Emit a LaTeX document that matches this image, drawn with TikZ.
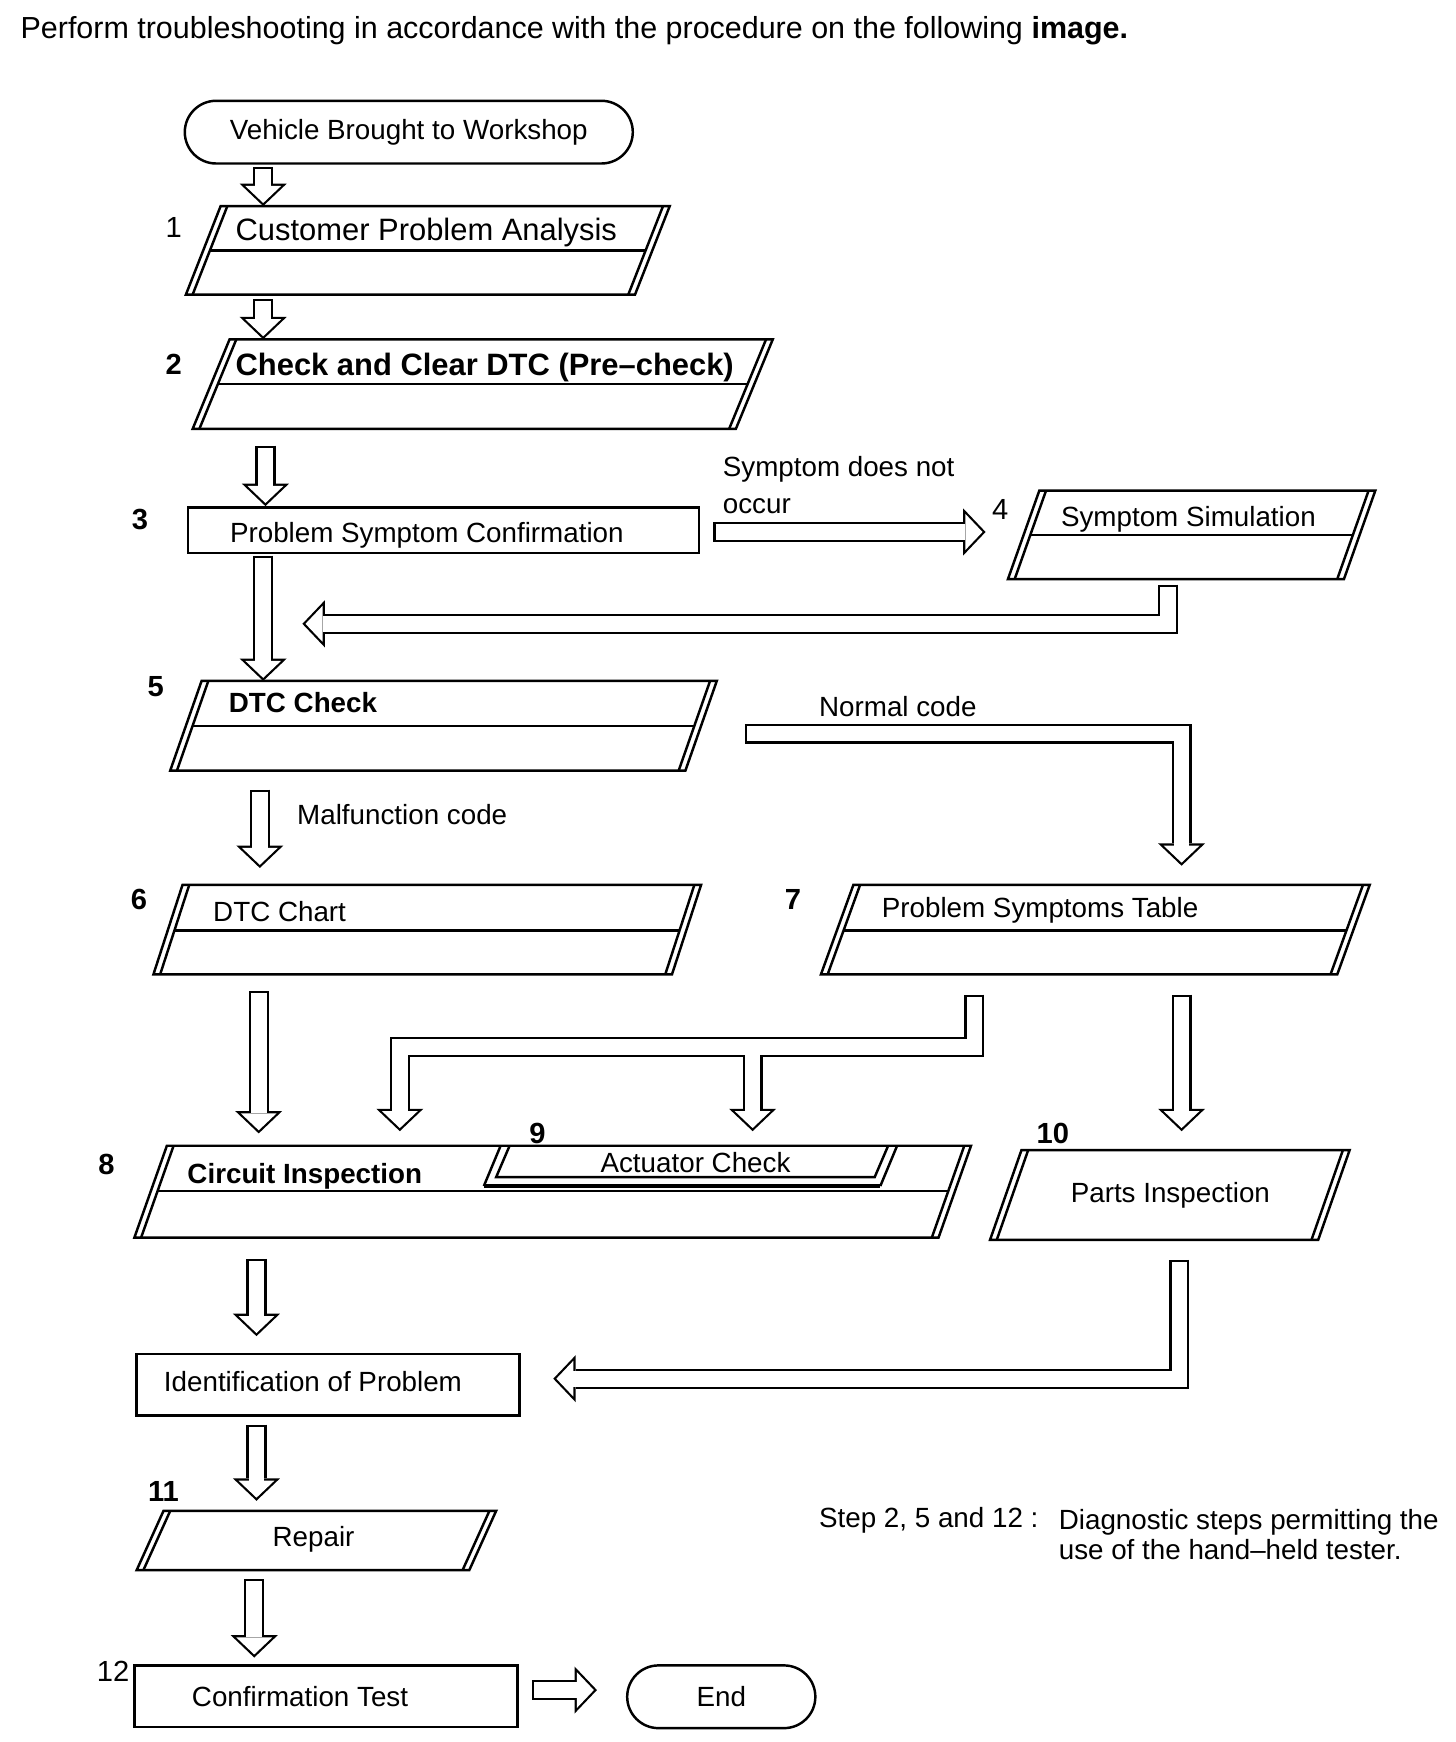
\documentclass[tikz,border=0pt]{standalone}
\usepackage{fontspec}
\setmainfont{Liberation Sans}
\usetikzlibrary{calc,arrows.meta}

\tikzset{
  boxline/.style={line width=1.1pt, line join=miter},
  frame/.style={draw, line width=1.1pt, inner sep=0pt},
  txt/.style={font=\fontsize{12.4}{15}\selectfont, inner sep=0pt, anchor=base west},
  bigtxt/.style={font=\fontsize{13.8}{16}\selectfont, inner sep=0pt, anchor=base west},
  stepno/.style={font=\fontsize{13}{15}\selectfont\bfseries, inner sep=0pt, anchor=base},
  arrowout/.style={line width=9pt, line join=miter,
    -{Triangle[length=10pt,width=21pt,line width=0pt]}},
  arrowin/.style={white, line width=7pt, line join=miter, shorten <=1pt, shorten >=1.38pt,
    -{Triangle[length=7.6pt,width=16pt,line width=0pt]}},
}

% parallelogram step box: name, top-left x, top y, width, height, slant
\newcommand{\slantbox}[6]{%
  \coordinate (#1-nw) at (#2,#3);
  \coordinate (#1-ne) at (#2+#4,#3);
  \coordinate (#1-se) at (#2+#4-#6,#3+#5);
  \coordinate (#1-sw) at (#2-#6,#3+#5);
  \draw[boxline] (#1-nw) -- (#1-ne) -- (#1-se) -- (#1-sw) -- cycle;
  \draw[boxline] ($(#1-nw)+(6,0)$) -- ($(#1-sw)+(6,0)$);
  \draw[boxline] ($(#1-ne)-(6,0)$) -- ($(#1-se)-(6,0)$);
}
\newcommand{\boxsplit}[2]{%
  \draw[boxline] ($(#1-nw)!#2!(#1-sw)+(6,0)$) -- ($(#1-ne)!#2!(#1-se)-(6,0)$);
}
\newcommand{\blockarrow}[1]{\draw[arrowout] #1; \draw[arrowin] #1;}

\begin{document}
\begin{tikzpicture}[x=0.5pt, y=-0.5pt]
  \useasboundingbox (0,0) rectangle (1300,1555.4);

  \node[inner sep=0pt, anchor=base west, font=\fontsize{13.6}{16}\selectfont] (title) at (18,34)
    {Perform troubleshooting in accordance with the procedure on the following \textbf{image.}};

  % start
  \node[frame, rounded corners=14pt, minimum width=200pt, minimum height=28pt,
    font=\fontsize{12.4}{15}\selectfont] (start) at (365,118) {Vehicle Brought to Workshop};

  % step 1
  \slantbox{b1}{197}{184}{401}{79}{31}
  \boxsplit{b1}{0.5}
  \node[stepno, font=\fontsize{13}{15}\selectfont] (n1) at (155,212) {1};
  \node[bigtxt] (b1-text) at (210,215) {Customer Problem Analysis};

  % step 2
  \slantbox{b2}{205}{303}{485}{80}{33}
  \boxsplit{b2}{0.5}
  \node[stepno] (n2) at (155,334) {2};
  \node[bigtxt, font=\fontsize{13.8}{16}\selectfont\bfseries] (b2-text) at (210,335)
    {Check and Clear DTC (Pre--check)};

  % step 3
  \node[frame, minimum width=228pt, minimum height=20.5pt] (psc) at (396,473.5) {};
  \node[stepno] (n3) at (125,473) {3};
  \node[txt] (psc-text) at (205,484) {Problem Symptom Confirmation};
  \node[inner sep=0pt, anchor=north west, align=left, font=\fontsize{12.4}{16.5}\selectfont]
    (nooccur) at (645,407) {Symptom does not\\occur};

  % step 4
  \slantbox{b4}{928}{438}{300}{79}{28}
  \boxsplit{b4}{0.5}
  \node[stepno, font=\fontsize{13}{15}\selectfont] (n4) at (893,464) {4};
  \node[txt] (b4-text) at (947,470) {Symptom Simulation};

  % step 5
  \slantbox{b5}{180}{608}{460}{80}{28}
  \boxsplit{b5}{0.5}
  \node[stepno] (n5) at (139,622) {5};
  \node[txt, font=\fontsize{12.4}{15}\selectfont\bfseries] (b5-text) at (204,636) {DTC Check};
  \node[txt] (normal) at (731,640) {Normal code};
  \node[txt] (malf) at (265,736) {Malfunction code};

  % step 6 and 7
  \slantbox{b6}{163}{790}{463}{80}{26}
  \boxsplit{b6}{0.51}
  \node[stepno] (n6) at (124,812) {6};
  \node[txt] (b6-text) at (190,823) {DTC Chart};
  \slantbox{b7}{762}{790}{461}{80}{29}
  \boxsplit{b7}{0.51}
  \node[stepno] (n7) at (708,812) {7};
  \node[txt] (b7-text) at (787,819) {Problem Symptoms Table};

  % step 8 with actuator check (9)
  \slantbox{b8}{149}{1023}{718}{82}{29}
  \boxsplit{b8}{0.49}
  \node[stepno] (n8) at (95,1049) {8};
  \node[txt, font=\fontsize{12.4}{15}\selectfont\bfseries] (b8-text) at (167,1057) {Circuit Inspection};
  \coordinate (b9-nw) at (447,1023);
  \coordinate (b9-ne) at (801,1023);
  \coordinate (b9-sw) at (432,1059);
  \coordinate (b9-se) at (786,1059);
  \draw[boxline] (b9-nw) -- (b9-sw);
  \draw[boxline] (b9-ne) -- (b9-se);
  \draw[line width=2pt] (b9-sw) -- (b9-se);
  \draw[boxline] ($(b9-nw)+(8,0)$) -- (443,1051) -- (781,1051) -- ($(b9-ne)-(8,0)$);
  \node[stepno] (n9) at (480,1021) {9};
  \node[txt, anchor=base] (b9-text) at (621,1047) {Actuator Check};

  % step 10
  \slantbox{b10}{912}{1027}{293}{80}{28}
  \node[stepno] (n10) at (940,1021) {10};
  \node[txt, anchor=base] (b10-text) at (1045,1074) {Parts Inspection};

  % identification
  \node[frame, minimum width=171pt, minimum height=27.5pt] (ident) at (293,1236.5) {};
  \node[txt] (ident-text) at (146,1242) {Identification of Problem};

  % step 11
  \slantbox{b11}{146}{1349}{297}{53}{24}
  \node[stepno] (n11) at (146,1341) {11};
  \node[txt, anchor=base] (b11-text) at (280,1381) {Repair};

  % step 12
  \node[frame, minimum width=171pt, minimum height=27.5pt] (ctest) at (291,1514.5) {};
  \node[stepno, font=\fontsize{13}{15}\selectfont] (n12) at (101,1501) {12};
  \node[txt] (ctest-text) at (171,1524) {Confirmation Test};
  \node[frame, rounded corners=14pt, minimum width=84pt, minimum height=28pt,
    font=\fontsize{12.4}{15}\selectfont] (endnode) at (644,1515) {End};

  % note
  \node[txt] (note) at (731,1364) {Step 2, 5 and 12 :};
  \node[inner sep=0pt, anchor=north west, align=left, font=\fontsize{12.4}{13.5}\selectfont]
    (note-text) at (945,1347) {Diagnostic steps permitting the\\use of the hand--held tester.};

  % arrows
  \coordinate (a1) at (235,149);
  \blockarrow{(a1) -- (a1 |- b1-nw)}
  \coordinate (a2) at (235,267);
  \blockarrow{(a2) -- (a2 |- b2-nw)}
  \coordinate (a3) at (237,398);
  \blockarrow{(a3) -- (a3 |- psc.north)}
  \coordinate (a4) at (637,475);
  \coordinate (a4end) at (880,475);
  \blockarrow{(a4) -- (a4end)}
  \coordinate (a5) at (1043,522);
  \coordinate (a5end) at (270,557);
  \blockarrow{(a5) |- (a5end)}
  \coordinate (a6) at (235,496);
  \blockarrow{(a6) -- (a6 |- b5-nw)}
  \coordinate (a7) at (665,655);
  \coordinate (a7end) at (1055,773);
  \blockarrow{(a7) -| (a7end)}
  \coordinate (a8) at (232,705);
  \coordinate (a8end) at (232,775);
  \blockarrow{(a8) -- (a8end)}
  \coordinate (a9) at (231,885);
  \coordinate (a9end) at (231,1012);
  \blockarrow{(a9) -- (a9end)}
  \coordinate (a10) at (870,888);
  \coordinate (a10bar) at (357,935);
  \coordinate (a10end) at (357,1010);
  \blockarrow{(a10) |- (a10bar) -- (a10end)}
  \coordinate (a10b) at (672,942);
  \coordinate (a10bend) at (672,1010);
  \draw[arrowout] (a10b) -- (a10bend);
  \draw[arrowin, shorten <=0pt] (a10b) -- (a10bend);
  \coordinate (a11) at (1055,888);
  \coordinate (a11end) at (1055,1010);
  \blockarrow{(a11) -- (a11end)}
  \coordinate (a12) at (229,1124);
  \coordinate (a12end) at (229,1193);
  \blockarrow{(a12) -- (a12end)}
  \coordinate (a13) at (1053,1125);
  \coordinate (a13end) at (494,1231);
  \blockarrow{(a13) |- (a13end)}
  \coordinate (a14) at (229,1272);
  \coordinate (a14end) at (229,1340);
  \blockarrow{(a14) -- (a14end)}
  \coordinate (a15) at (227,1410);
  \coordinate (a15end) at (227,1480);
  \blockarrow{(a15) -- (a15end)}
  \coordinate (a16) at (475,1509);
  \coordinate (a16end) at (533,1509);
  \blockarrow{(a16) -- (a16end)}
\end{tikzpicture}
\end{document}
